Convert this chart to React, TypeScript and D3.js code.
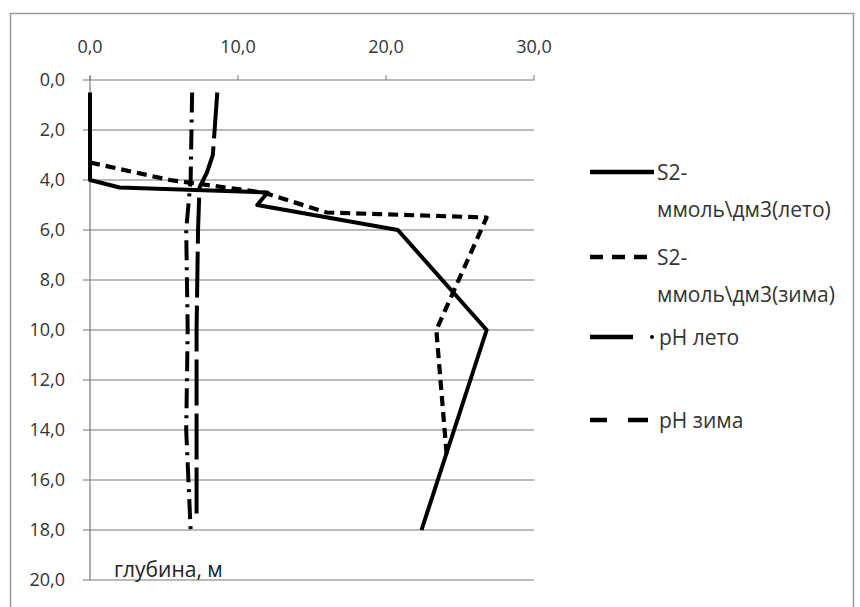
import * as d3 from 'd3';

// глубина (м) и значения по сериям
const s2SummerDepth = [0.5, 4.0, 4.3, 4.5, 5.0, 6.0, 10.0, 18.0];
const s2SummerValue = [0, 0, 2.0, 12.0, 11.3, 20.8, 26.8, 22.4];

const s2WinterDepth = [3.3, 4.0, 4.5, 5.3, 5.5, 10.0, 15.0];
const s2WinterValue = [0, 5.4, 11.7, 16.0, 26.8, 23.4, 24.1];

const phSummerDepth = [0.5, 4.0, 6.0, 10.0, 14.0, 18.0];
const phSummerValue = [6.9, 6.8, 6.5, 6.6, 6.5, 6.8];

const phWinterDepth = [0.5, 3.0, 3.7, 4.3, 6.0, 10.0, 14.0, 17.6];
const phWinterValue = [8.6, 8.3, 7.9, 7.4, 7.3, 7.2, 7.2, 7.2];

const xTicks = [0, 10, 20, 30];
const yTicks = [0, 2, 4, 6, 8, 10, 12, 14, 16, 18, 20];

const legendLabels = [
	['S2-', 'ммоль\\дм3(лето)'],
	['S2-', 'ммоль\\дм3(зима)'],
	['pH лето'],
	['pH зима'],
];

const width = 860;
const height = 607;
const font = "'Open Sans', 'DejaVu Sans', sans-serif";
const fmt = (v: number) => v.toFixed(1).replace('.', ',');

const x = d3.scaleLinear().domain([0, 30]).range([90, 534]);
const y = d3.scaleLinear().domain([0, 20]).range([80, 580]);

type Pt = [number, number];
const zip = (vals: number[], depths: number[]): Pt[] => vals.map((v, i) => [v, depths[i]]);
const line = d3
	.line<Pt>()
	.x((d) => x(d[0]))
	.y((d) => y(d[1]));

const series = [
	{pts: zip(s2SummerValue, s2SummerDepth), dash: undefined as string | undefined, w: 4},
	{pts: zip(s2WinterValue, s2WinterDepth), dash: '10 6', w: 4.2},
	{pts: zip(phSummerValue, phSummerDepth), dash: '20 7 3 7', w: 4},
	{pts: zip(phWinterValue, phWinterDepth), dash: '46 8', w: 4},
];

const legendY = [172, 257, 337, 420];

export default function App() {
	return (
		<svg
			width={width}
			height={height}
			style={{position: 'absolute', left: 0, top: 0, background: '#fff'}}
			fontFamily={font}
		>
			<rect x={10.5} y={13.5} width={843} height={610} fill="#fff" stroke="#9a9a9a" strokeWidth={1.5} />

			{/* сетка */}
			{yTicks.map((t) => (
				<g key={t}>
					<line x1={83} x2={x(30)} y1={y(t)} y2={y(t)} stroke="#777" strokeWidth={1.2} />
					<text x={65} y={y(t)} dy="0.36em" textAnchor="end" fontSize={18} fill="#333">
						{fmt(t)}
					</text>
				</g>
			))}

			{/* верхняя ось */}
			{xTicks.map((t) => (
				<g key={t}>
					<line x1={x(t)} x2={x(t)} y1={y(0) - 5} y2={y(0)} stroke="#777" />
					<text x={x(t)} y={47} dy="0.36em" textAnchor="middle" fontSize={18} fill="#333">
						{fmt(t)}
					</text>
				</g>
			))}
			<line x1={x(0)} x2={x(0)} y1={y(0) - 4} y2={y(20)} stroke="#777" strokeWidth={1.2} />

			{series.map((s, i) => (
				<path
					key={i}
					d={line(s.pts) ?? ''}
					fill="none"
					stroke="#000"
					strokeWidth={s.w}
					strokeDasharray={s.dash}
					strokeLinejoin="round"
				/>
			))}

			<text x={114} y={569} dy="0.36em" fontSize={21} fill="#222">
				глубина, м
			</text>

			{/* легенда */}
			{legendLabels.map((lab, i) => {
				const ly = legendY[i];
				return (
					<g key={i}>
						{i === 0 && <line x1={590} x2={654} y1={ly} y2={ly} stroke="#000" strokeWidth={4.5} />}
						{i === 1 &&
							[0, 1, 2].map((k) => (
								<line key={k} x1={590 + k * 22} x2={603 + k * 22} y1={ly} y2={ly} stroke="#000" strokeWidth={4.5} />
							))}
						{i === 2 && (
							<>
								<line x1={590} x2={633} y1={ly} y2={ly} stroke="#000" strokeWidth={4.5} />
								<circle cx={652} cy={ly} r={2} fill="#000" />
							</>
						)}
						{i === 3 && (
							<>
								<line x1={590} x2={607} y1={ly} y2={ly} stroke="#000" strokeWidth={4.5} />
								<line x1={628} x2={648} y1={ly} y2={ly} stroke="#000" strokeWidth={4.5} />
							</>
						)}
						{lab.map((l, k) => (
							<text
								key={k}
								x={i < 2 ? 657 : 659}
								y={ly + k * 37}
								dy="0.36em"
								fontSize={21}
								fill="#333"
							>
								{l}
							</text>
						))}
					</g>
				);
			})}
		</svg>
	);
}
